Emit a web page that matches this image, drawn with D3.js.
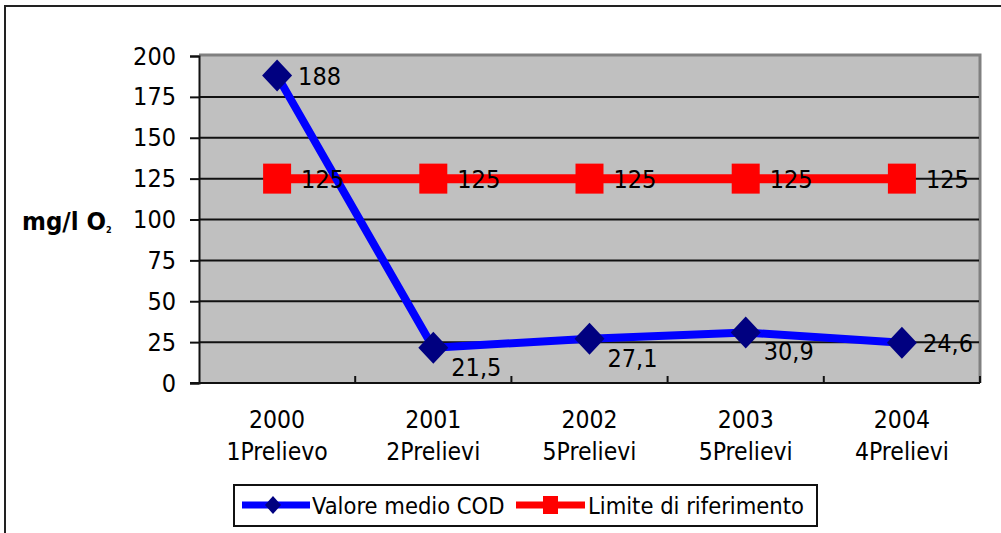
<!DOCTYPE html>
<html>
<head>
<meta charset="utf-8">
<script src="https://cdn.jsdelivr.net/npm/d3@7"></script>
<style>
  body { margin: 0; background: #fff; }
  text { font-family: "DejaVu Sans Condensed", "DejaVu Sans", sans-serif; fill: #000; }
</style>
</head>
<body>
<svg id="chart" width="1001" height="533"></svg>
<script>
const years = ["2000", "2001", "2002", "2003", "2004"];
const samples = ["1Prelievo", "2Prelievi", "5Prelievi", "5Prelievi", "4Prelievi"];
const codValues = [188, 21.5, 27.1, 30.9, 24.6];
const limitValues = [125, 125, 125, 125, 125];
const yTicks = [0, 25, 50, 75, 100, 125, 150, 175, 200];

const svg = d3.select("#chart");
const pLeft = 199, pRight = 980, pTop = 56, pBottom = 383;

// outer frame
svg.append("rect").attr("x", 5).attr("y", 6).attr("width", 1020).attr("height", 560)
  .attr("fill", "none").attr("stroke", "#222").attr("stroke-width", 2);

const x = d3.scaleBand().domain(d3.range(years.length)).range([pLeft, pRight]);
const y = d3.scaleLinear().domain([0, 200]).range([pBottom, pTop]);
const cx = i => x(i) + x.bandwidth() / 2;

// plot area
svg.append("rect").attr("x", pLeft).attr("y", pTop).attr("width", pRight - pLeft).attr("height", pBottom - pTop)
  .attr("fill", "#c0c0c0");
svg.append("path").attr("d", `M${pLeft},${pTop - 1}H${pRight}V${pBottom}`)
  .attr("fill", "none").attr("stroke", "#808080").attr("stroke-width", 3);

// gridlines
svg.append("g").selectAll("line").data(yTicks.filter(t => t > 0 && t < 200)).join("line")
  .attr("x1", pLeft).attr("x2", pRight - 1).attr("y1", d => y(d)).attr("y2", d => y(d))
  .attr("stroke", "#111").attr("stroke-width", 2);

// y axis
const yAxis = svg.append("g").attr("transform", `translate(${pLeft},0)`)
  .call(d3.axisLeft(y).tickValues(yTicks).tickSize(9).tickPadding(14));
yAxis.select(".domain").attr("stroke", "#111").attr("stroke-width", 2);
yAxis.selectAll(".tick line").attr("stroke", "#111").attr("stroke-width", 2);
yAxis.selectAll(".tick text").attr("font-size", 25)
  .style("font-family", '"DejaVu Sans Condensed", "DejaVu Sans", sans-serif');

// x axis (ticks at category boundaries, pointing inward)
svg.append("line").attr("x1", pLeft - 9).attr("x2", pRight).attr("y1", pBottom).attr("y2", pBottom)
  .attr("stroke", "#111").attr("stroke-width", 2);
svg.append("g").selectAll("line").data(d3.range(1, years.length + 1)).join("line")
  .attr("x1", i => pLeft + i * x.bandwidth()).attr("x2", i => pLeft + i * x.bandwidth())
  .attr("y1", pBottom).attr("y2", pBottom - 7).attr("stroke", "#111").attr("stroke-width", 2);

const cat = svg.append("g").selectAll("text").data(years).join("text")
  .attr("text-anchor", "middle").attr("font-size", 24.5);
cat.append("tspan").attr("x", (d, i) => cx(i)).attr("y", 428).text(d => d);
cat.append("tspan").attr("x", (d, i) => cx(i)).attr("y", 460).text((d, i) => samples[i]);

// y title
const yt = svg.append("text").attr("x", 22).attr("y", 230).attr("font-size", 25.5).attr("font-weight", "bold")
  .style("font-family", '"DejaVu Sans Condensed", "DejaVu Sans", sans-serif');
yt.append("tspan").text("mg/l O");
yt.append("tspan").attr("font-size", 9).attr("dy", 3).text("2");

// limit series
const line = d3.line().x((d, i) => cx(i)).y(d => y(d));
svg.append("path").datum(limitValues).attr("d", line)
  .attr("fill", "none").attr("stroke", "#ff0000").attr("stroke-width", 9);
svg.append("g").selectAll("rect").data(limitValues).join("rect")
  .attr("x", (d, i) => cx(i) - 14).attr("y", d => y(d) - 15).attr("width", 28).attr("height", 30)
  .attr("fill", "#ff0000");

// COD series
svg.append("path").datum(codValues).attr("d", line)
  .attr("fill", "none").attr("stroke", "#0000ff").attr("stroke-width", 8).attr("stroke-linejoin", "round");
const diamond = (w, h) => `M0,${-h}L${w},0L0,${h}L${-w},0Z`;
svg.append("g").selectAll("path").data(codValues).join("path")
  .attr("d", diamond(15, 16)).attr("transform", (d, i) => `translate(${cx(i)},${y(d)})`)
  .attr("fill", "#000080");

// labels
const fmt = v => String(v).replace(".", ",");
svg.append("g").selectAll("text").data(limitValues).join("text")
  .attr("x", (d, i) => cx(i) + 24).attr("y", d => y(d) + 9).attr("font-size", 25).text(fmt);
svg.append("g").selectAll("text").data(codValues).join("text")
  .attr("x", (d, i) => cx(i) + (i > 0 && i < 4 ? 18 : 21))
  .attr("y", (d, i) => y(d) + (i > 0 && i < 4 ? 28 : 9))
  .attr("font-size", 25).text(fmt);

// legend
const lg = svg.append("g");
lg.append("rect").attr("x", 234).attr("y", 485).attr("width", 583).attr("height", 41)
  .attr("fill", "#fff").attr("stroke", "#111").attr("stroke-width", 2);
lg.append("line").attr("x1", 242).attr("x2", 310).attr("y1", 505).attr("y2", 505)
  .attr("stroke", "#0000ff").attr("stroke-width", 7);
lg.append("path").attr("d", diamond(8, 9))
  .attr("transform", "translate(273,505)").attr("fill", "#000080");
lg.append("text").attr("x", 312).attr("y", 514).attr("font-size", 23.5).text("Valore medio COD");
lg.append("line").attr("x1", 516).attr("x2", 585).attr("y1", 505).attr("y2", 505)
  .attr("stroke", "#ff0000").attr("stroke-width", 7);
lg.append("rect").attr("x", 543).attr("y", 496).attr("width", 15).attr("height", 18).attr("fill", "#ff0000");
lg.append("text").attr("x", 588).attr("y", 514).attr("font-size", 23.5).text("Limite di riferimento");
</script>
</body>
</html>
